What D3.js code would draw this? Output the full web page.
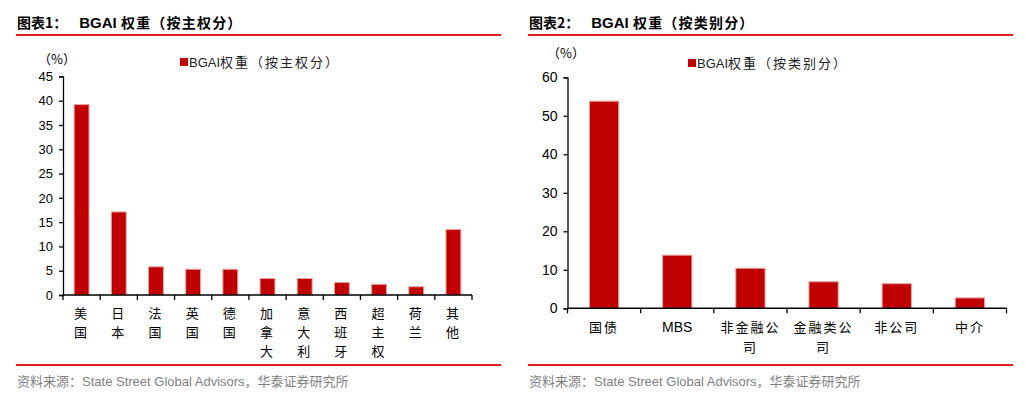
<!DOCTYPE html>
<html>
<head>
<meta charset="utf-8">
<script src="https://cdn.jsdelivr.net/npm/d3@7"></script>
<style>
  body { margin: 0; background: #fff; }
  svg text { font-family: "Liberation Sans", Arial, sans-serif; }
  .cjk { font-family: "Noto Sans CJK SC", sans-serif; }
</style>
</head>
<body>
<div id="chart"></div>
<script>
// Data
const sovereignCats = ["美国", "日本", "法国", "英国", "德国", "加拿大", "意大利", "西班牙", "超主权", "荷兰", "其他"];
const sovereignVals = [39.2, 17.1, 5.8, 5.3, 5.3, 3.4, 3.4, 2.6, 2.2, 1.7, 13.5];
const sovereignTicks = [0, 5, 10, 15, 20, 25, 30, 35, 40, 45];

const sectorCats = ["国债", "MBS", "非金融公司", "金融类公司", "非公司", "中介"];
const sectorVals = [53.8, 13.8, 10.4, 6.9, 6.4, 2.7];
const sectorTicks = [0, 10, 20, 30, 40, 50, 60];

const RED = "#e3211b";
const BAR = "#c00000";

const svg = d3.select("#chart").append("svg").attr("width", 1026).attr("height", 397);

function drawPanel(p) {
    const g = svg.append("g");

    // Title + red rules
    const title = g.append("text").attr("x", p.left).attr("y", 28)
        .attr("font-size", 14).attr("font-weight", "bold").attr("fill", "#000");
    title.append("tspan").attr("class", "cjk").text(p.fig);
    title.append("tspan").attr("dx", 12).attr("font-size", 15).text("BGAI ");
    title.append("tspan").attr("class", "cjk").attr("letter-spacing", 1.2).text(p.title);
    g.append("line").attr("x1", p.left - 1).attr("x2", p.right).attr("y1", 35).attr("y2", 35)
        .attr("stroke", RED).attr("stroke-width", 2);
    g.append("line").attr("x1", p.left - 1).attr("x2", p.right).attr("y1", 365).attr("y2", 365)
        .attr("stroke", RED).attr("stroke-width", 2);

    // Source
    const src = g.append("text").attr("x", p.left).attr("y", 386)
        .attr("font-size", 13).attr("fill", "#7f7f7f");
    src.append("tspan").attr("class", "cjk").text("资料来源：");
    src.append("tspan").text("State Street Global Advisors");
    src.append("tspan").attr("class", "cjk").text("，华泰证券研究所");

    // Scales
    const x = d3.scaleBand().domain(p.cats).range([p.x0, p.x1]).paddingInner(0).paddingOuter(0);
    const y = d3.scaleLinear().domain([0, p.ymax]).range([p.y0, p.y1]);

    // Y axis
    const yAxis = g.append("g").attr("transform", `translate(${p.x0},0)`)
        .call(d3.axisLeft(y).tickValues(p.ticks).tickSize(4).tickPadding(p.tickPad).tickFormat(d3.format("d")));
    yAxis.select(".domain").attr("stroke", "#000").attr("stroke-width", 1.3);
    yAxis.selectAll(".tick line").attr("stroke", "#000").attr("stroke-width", 1.3);
    yAxis.selectAll("text").attr("font-size", p.yFont).attr("fill", "#000")
        .attr("font-family", "Liberation Sans, Arial, sans-serif");

    g.append("text").attr("class", "cjk").attr("x", p.pctX).attr("y", p.pctY)
        .attr("font-size", 13).attr("fill", "#000").text("（%）");

    // Bars
    const bw = x.bandwidth() * 0.4;
    g.selectAll(".bar").data(p.vals).enter().append("rect")
        .attr("x", (d, i) => x(p.cats[i]) + (x.bandwidth() - bw) / 2)
        .attr("y", d => y(d))
        .attr("width", bw)
        .attr("height", d => p.y0 - y(d))
        .attr("fill", BAR)
        .attr("stroke", "#e8a3a3").attr("stroke-width", 1);

    // X axis (ticks at band edges)
    g.append("line").attr("x1", p.x0).attr("x2", p.x1).attr("y1", p.y0).attr("y2", p.y0)
        .attr("stroke", "#000").attr("stroke-width", 1.5);
    const edges = p.cats.map(c => x(c)).concat([p.x1]);
    g.selectAll(".xt").data(edges).enter().append("line")
        .attr("x1", d => d).attr("x2", d => d).attr("y1", p.y0).attr("y2", p.y0 + 5)
        .attr("stroke", "#000").attr("stroke-width", 1.3);

    // X labels
    p.cats.forEach(c => {
        const cx = x(c) + x.bandwidth() / 2;
        let lines;
        if (p.vertical) lines = c.split("");
        else {
            lines = [];
            for (let i = 0; i < c.length; i += 4) lines.push(c.slice(i, i + 4));
        }
        const isLatin = /^[A-Z]+$/.test(c);
        lines.forEach((ln, k) => {
            g.append("text").attr("class", isLatin ? null : "cjk")
                .attr("x", cx).attr("y", p.labelY + k * p.lineH)
                .attr("text-anchor", "middle").attr("font-size", isLatin ? 14 : 13)
                .attr("letter-spacing", isLatin ? 0 : 2)
                .attr("fill", "#000").text(ln);
        });
    });

    // Legend
    g.append("rect").attr("x", p.legX).attr("y", p.legY - 4).attr("width", 8).attr("height", 8).attr("fill", BAR);
    const lt = g.append("text").attr("x", p.legX + 9).attr("y", p.legY + 5).attr("font-size", 13).attr("fill", "#222");
    lt.append("tspan").text("BGAI");
    lt.append("tspan").attr("class", "cjk").attr("letter-spacing", 2).text(p.legend);
}

drawPanel({
    left: 17, right: 501, fig: "图表1：", title: "权重（按主权分）",
    cats: sovereignCats, vals: sovereignVals, ticks: sovereignTicks, ymax: 45,
    x0: 63, x1: 472, y0: 295, y1: 76.4, yFont: 13, tickPad: 6,
    pctX: 38, pctY: 64, vertical: true, labelY: 318, lineH: 19,
    legX: 180, legY: 62, legend: "权重（按主权分）"
});

drawPanel({
    left: 529, right: 1013, fig: "图表2：", title: "权重（按类别分）",
    cats: sectorCats, vals: sectorVals, ticks: sectorTicks, ymax: 60,
    x0: 567.5, x1: 1006.5, y0: 308.3, y1: 77.3, yFont: 14, tickPad: 6,
    pctX: 547, pctY: 58, vertical: false, labelY: 332, lineH: 20,
    legX: 688, legY: 63, legend: "权重（按类别分）"
});
</script>
</body>
</html>
